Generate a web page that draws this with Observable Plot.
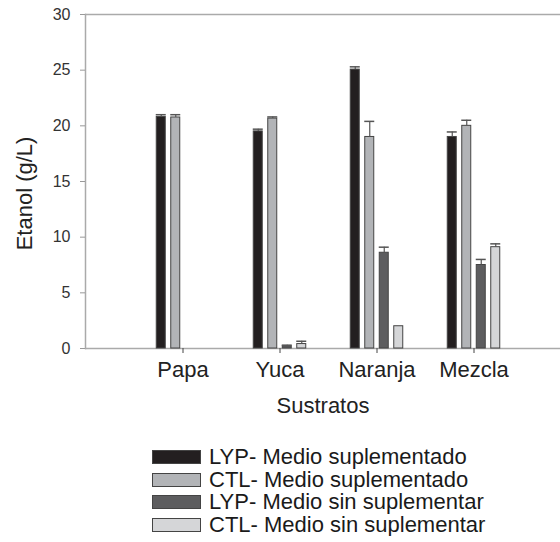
<!DOCTYPE html>
<html><head><meta charset="utf-8">
<script src="https://cdn.jsdelivr.net/npm/d3@7"></script>
<script src="https://cdn.jsdelivr.net/npm/@observablehq/plot@0.6"></script>
<style>
body{margin:0;background:#fff;font-family:"Liberation Sans",Arial,sans-serif;}
#chart{width:560px;}
.legend{margin-top:5.5px;}
.row{display:flex;align-items:center;height:22.7px;padding-left:152px;font-size:22px;color:#1a1a1a;white-space:nowrap;}
.sw{width:49px;height:14px;box-sizing:border-box;border:1px solid #444;margin-right:8px;flex:none;}
</style></head><body><div id="chart"></div>
<script>
// ---- data ----
const categorias = ["Papa", "Yuca", "Naranja", "Mezcla"];
const series = ["LYP- Medio suplementado", "CTL- Medio suplementado", "LYP- Medio sin suplementar", "CTL- Medio sin suplementar"];
const lypSup = [20.8, 19.5, 25.05, 19.0];
const lypSupErr = [0.2, 0.2, 0.25, 0.45];
const ctlSup = [20.75, 20.65, 19.0, 20.0];
const ctlSupErr = [0.25, 0.15, 1.4, 0.5];
const lypSin = [null, 0.2, 8.6, 7.5];
const lypSinErr = [null, 0.1, 0.5, 0.5];
const ctlSin = [null, 0.4, 2.0, 9.1];
const ctlSinErr = [null, 0.25, 0, 0.3];
const yTicks = [0, 5, 10, 15, 20, 25, 30];
const xLabel = "Sustratos";
const yLabel = "Etanol (g/L)";
const colores = ["#231f20", "#b2b4b7", "#5d5d5f", "#d5d6d8"];

// ---- build table ----
const valores = [lypSup, ctlSup, lypSin, ctlSin];
const errores = [lypSupErr, ctlSupErr, lypSinErr, ctlSinErr];
const rows = [];
series.forEach((s, i) => categorias.forEach((c, j) => {
  if (valores[i][j] != null) rows.push({cat: c, serie: s, idx: i, value: valores[i][j], err: errores[i][j]});
}));

// ---- layout ----
const xRange = [133.25, 523.25];
const bandW = (xRange[1] - xRange[0]) / categorias.length;
const barW = 9.5, step = 14.5, groupW = 3 * step + barW;

const barMarks = [];
series.forEach((s, i) => {
  const left = (bandW - groupW) / 2 + i * step;
  const right = bandW - left - barW;
  const data = rows.filter(d => d.idx === i);
  const errData = data.filter(d => d.err > 0);
  barMarks.push(
    Plot.barY(data, {x: "cat", y: "value", fill: colores[i], stroke: "#444", strokeWidth: 1, insetLeft: left, insetRight: right}),
    Plot.ruleX(errData, {x: "cat", y1: "value", y2: d => d.value + d.err, dx: left + barW / 2 - bandW / 2, stroke: "#555", strokeWidth: 1.2}),
    Plot.tickY(errData, {x: "cat", y: d => d.value + d.err, insetLeft: left - 0.5, insetRight: right - 0.5, stroke: "#555", strokeWidth: 1.5})
  );
});

const plot = Plot.plot({
  width: 560, height: 440,
  marginTop: 14, marginBottom: 92, marginLeft: 85, marginRight: 0,
  style: {fontFamily: '"Liberation Sans", Arial, sans-serif', background: "#fff", overflow: "hidden"},
  x: {domain: categorias, range: xRange, padding: 0},
  y: {domain: [0, 30]},
  marks: [
    Plot.ruleY([0, 30], {stroke: "#aaa", strokeWidth: 1.5}),
    Plot.frame({anchor: "left", stroke: "#aaa", strokeWidth: 1.5}),
    Plot.axisY({ticks: yTicks, tickSize: 5, tickPadding: 10, fontSize: 16, stroke: "#999", fill: "#333", label: null}),
    Plot.axisX({tickSize: 5, tickPadding: 8, fontSize: 22, stroke: "#444", fill: "#222", label: null}),
    ...barMarks,
    Plot.text([xLabel], {text: d => d, frameAnchor: "bottom", lineAnchor: "middle", textAnchor: "middle", dy: 57.5, fontSize: 22, fill: "#222"}),
    Plot.text([yLabel], {text: d => d, frameAnchor: "left", lineAnchor: "middle", textAnchor: "middle", dx: -61, dy: 12, rotate: -90, fontSize: 22, fill: "#222"})
  ]
});
const chart = document.getElementById("chart");
chart.appendChild(plot);

const legend = document.createElement("div");
legend.className = "legend";
series.forEach((s, i) => {
  const row = document.createElement("div");
  row.className = "row";
  const sw = document.createElement("span");
  sw.className = "sw";
  sw.style.background = colores[i];
  const t = document.createElement("span");
  t.textContent = s;
  row.appendChild(sw); row.appendChild(t);
  legend.appendChild(row);
});
chart.appendChild(legend);
</script></body></html>
